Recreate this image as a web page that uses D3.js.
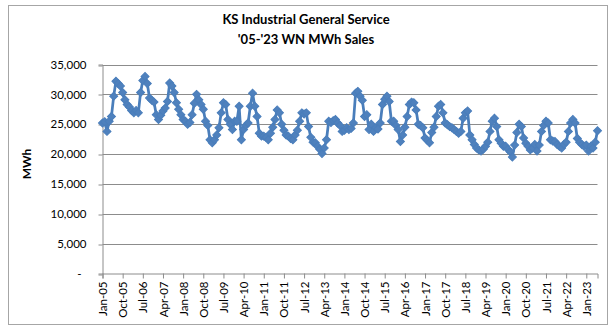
<!DOCTYPE html>
<html>
<head>
<meta charset="utf-8">
<script src="https://cdn.jsdelivr.net/npm/d3@7"></script>
<style>
  body { margin: 0; background: #fff; }
  svg { display: block; }
  text { font-family: Lato, "Open Sans", sans-serif; fill: #000; }
</style>
</head>
<body>
<svg id="chart" width="612" height="328"></svg>
<script>
// Monthly weather-normalized industrial sales, Jan 2005 through Jun 2023 (MWh)
const monthAbbr = ["Jan","Feb","Mar","Apr","May","Jun","Jul","Aug","Sep","Oct","Nov","Dec"];
const yearSuffix = ["05","06","07","08","09","10","11","12","13","14","15","16","17","18","19","20","21","22","23"];
const mwh = [
  25200, 25400, 23800, 25500, 26300, 29700, 32200, 31800, 31400, 30300, 29100, 28300, // 2005
  27900, 27300, 26900, 27300, 26900, 30300, 32300, 33000, 31800, 29400, 29000, 28700, // 2006
  26600, 25800, 26500, 27200, 27700, 28800, 31900, 31400, 30300, 28600, 27500, 26600, // 2007
  25800, 25500, 25000, 25300, 26600, 28500, 30000, 29100, 28300, 27500, 25500, 24800, // 2008
  22400, 21900, 22400, 23200, 24400, 26900, 28600, 28300, 25800, 25000, 24100, 25500, // 2009
  25500, 28000, 22400, 24100, 24800, 25200, 28000, 30200, 28000, 26300, 23500, 23000, // 2010
  23000, 22800, 22400, 23500, 24500, 25800, 27400, 26900, 25000, 24000, 23200, 23000, // 2011
  22600, 22400, 23200, 24000, 25500, 26900, 26700, 26900, 24600, 22800, 22000, 21900, // 2012
  21300, 20800, 20100, 21000, 22400, 25500, 25300, 25600, 25800, 25200, 24800, 23800, // 2013
  24000, 24400, 24100, 24300, 25200, 30200, 30500, 29700, 29000, 26300, 26600, 24100, // 2014
  25000, 23800, 24400, 24200, 25200, 28300, 29200, 29700, 28800, 25500, 25500, 24800, // 2015
  24100, 22100, 23200, 24500, 26300, 28300, 28700, 28600, 27400, 25000, 24800, 24400, // 2016
  22700, 22300, 21900, 23600, 24500, 26300, 28000, 28300, 26900, 25200, 24900, 24600, // 2017
  24400, 24100, 23800, 23500, 23800, 26000, 26900, 27200, 23200, 22400, 21600, 21000, // 2018
  20700, 20500, 20800, 21300, 22000, 23800, 25500, 26000, 24600, 22400, 21800, 21300, // 2019
  21300, 20800, 20400, 19500, 21500, 23600, 25000, 24600, 22700, 21800, 21300, 20700, // 2020
  21000, 21600, 20500, 21500, 23800, 24800, 25500, 25200, 22400, 22200, 22100, 21600, // 2021
  21300, 21000, 21600, 22000, 23800, 25200, 25800, 25200, 22600, 22000, 21600, 21300, // 2022
  21500, 20500, 21300, 21000, 22000, 23900                                              // 2023
];
const categories = yearSuffix
  .flatMap(y => monthAbbr.map(m => `${m}-${y}`))
  .slice(0, mwh.length);
const xTickLabels = ["Jan-05","Oct-05","Jul-06","Apr-07","Jan-08","Oct-08","Jul-09","Apr-10",
  "Jan-11","Oct-11","Jul-12","Apr-13","Jan-14","Oct-14","Jul-15","Apr-16","Jan-17","Oct-17",
  "Jul-18","Apr-19","Jan-20","Oct-20","Jul-21","Apr-22","Jan-23"];
const yTicks = [0, 5000, 10000, 15000, 20000, 25000, 30000, 35000];
const titleLines = ["KS Industrial General Service", "'05-'23 WN MWh Sales"];
const yAxisTitle = "MWh";

const svg = d3.select("#chart");
const plot = { left: 102.5, right: 597.5, top: 64.5, bottom: 273.5 };
const blue = "#4A7EBB";
const gridColor = "#8C8C8C";

// outer chart frame
svg.append("rect")
  .attr("x", 8.5).attr("y", 5.5)
  .attr("width", 599).attr("height", 319)
  .attr("fill", "#fff")
  .attr("stroke", "#A6A6A6").attr("stroke-width", 1);

const x = d3.scalePoint().domain(categories).range([plot.left, plot.right]);
const y = d3.scaleLinear().domain([0, 35000]).range([plot.bottom, plot.top]);

// title
svg.append("g").selectAll("text")
  .data(titleLines)
  .join("text")
  .attr("x", 306).attr("y", (d, i) => 24 + i * 20)
  .attr("text-anchor", "middle")
  .attr("font-size", "13px")
  .attr("font-weight", "bold")
  .text(d => d);

// horizontal gridlines
svg.append("g")
  .selectAll("line")
  .data(yTicks.filter(d => d > 0))
  .join("line")
  .attr("x1", plot.left).attr("x2", plot.right)
  .attr("y1", d => Math.round(y(d)) + 0.5).attr("y2", d => Math.round(y(d)) + 0.5)
  .attr("stroke", gridColor).attr("stroke-width", 1);

// y axis
const yAxis = svg.append("g")
  .attr("transform", `translate(${plot.left},0)`)
  .call(d3.axisLeft(y).tickValues(yTicks).tickSize(4).tickPadding(12)
    .tickFormat(d => d === 0 ? "-" : d3.format(",")(d)));
yAxis.select(".domain").attr("stroke", gridColor);
yAxis.selectAll(".tick line").attr("stroke", gridColor)
  .attr("transform", d => `translate(0,${Math.round(y(d)) + 0.5 - y(d)})`);
yAxis.selectAll(".tick text")
  .attr("font-size", "11.5px").attr("fill", "#000")
  .attr("font-family", "Lato, sans-serif")
  .attr("dx", d => d === 0 ? -5 : 0);

// x axis
const xAxis = svg.append("g")
  .attr("transform", `translate(0,${plot.bottom})`)
  .call(d3.axisBottom(x).tickValues(xTickLabels).tickSize(5).tickPadding(8));
xAxis.select(".domain").attr("stroke", gridColor);
xAxis.selectAll(".tick line").attr("stroke", gridColor);
xAxis.selectAll(".tick text")
  .attr("font-size", "11.5px").attr("fill", "#000")
  .attr("font-family", "Lato, sans-serif")
  .attr("text-anchor", "end")
  .attr("transform", "rotate(-90)")
  .attr("x", -8).attr("y", 0).attr("dy", "0.35em");

// y axis title
svg.append("text")
  .attr("transform", `translate(31,164) rotate(-90)`)
  .attr("text-anchor", "middle")
  .attr("font-size", "12px")
  .attr("font-weight", "bold")
  .text(yAxisTitle);

// series line
const series = categories.map((c, i) => ({ c, v: mwh[i] }));
svg.append("path")
  .datum(series)
  .attr("fill", "none")
  .attr("stroke", blue)
  .attr("stroke-width", 2.75)
  .attr("stroke-linejoin", "round")
  .attr("d", d3.line().x(d => x(d.c)).y(d => y(d.v)));

// diamond markers
const diamond = d3.symbol().type(d3.symbolSquare).size(32);
svg.append("g")
  .selectAll("path")
  .data(series)
  .join("path")
  .attr("d", diamond)
  .attr("transform", d => `translate(${x(d.c)},${y(d.v)}) rotate(45)`)
  .attr("fill", "#4F81BD")
  .attr("stroke", blue)
  .attr("stroke-width", 1);
</script>
</body>
</html>
